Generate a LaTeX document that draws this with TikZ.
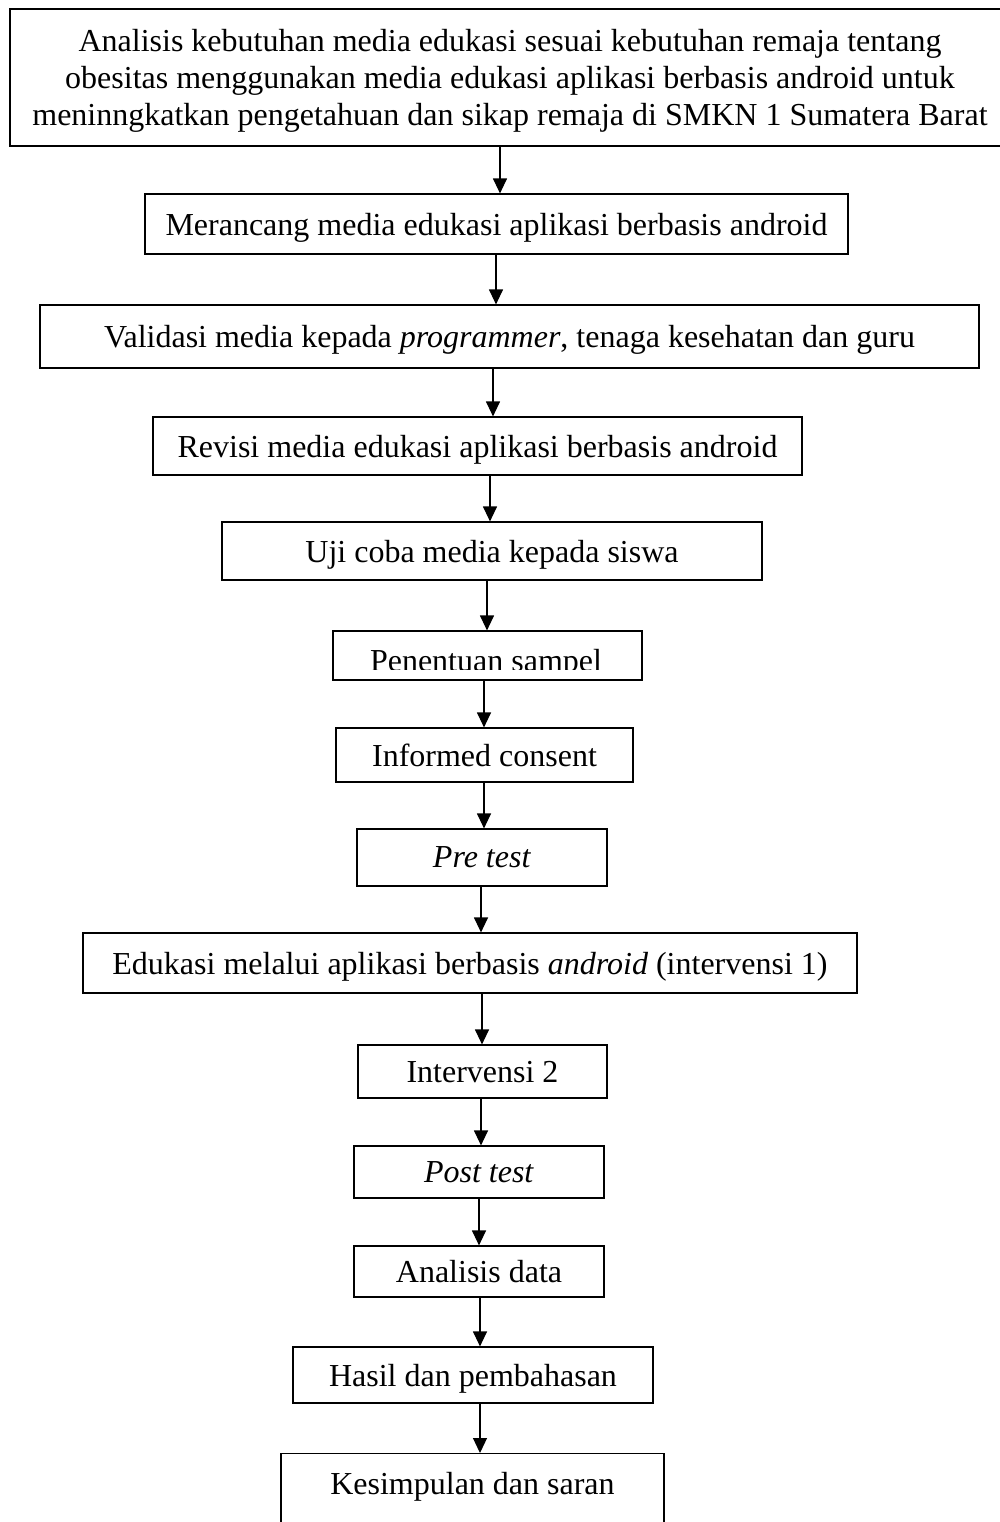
\documentclass[tikz,border=0pt]{standalone}
\usepackage{fontspec}
\setmainfont{Liberation Serif}
\usetikzlibrary{arrows.meta}
\begin{document}
\begin{tikzpicture}[x=0.5pt,y=-0.5pt,
  box/.style={draw,line width=0.6pt,inner sep=0pt,align=center,text depth=0pt,font=\fontsize{16}{18.5}\selectfont},
  arr/.style={line width=0.6pt,-{Triangle[length=7.5pt,width=7pt]}}]
\useasboundingbox (0,0) rectangle (1000,1522);
\clip (0,0) rectangle (1000,1522);
% boxes
\node[box,minimum width=500pt,minimum height=68.5pt] (b1) at (510,77.5)
  {Analisis kebutuhan media edukasi sesuai kebutuhan remaja tentang\\
   obesitas menggunakan media edukasi aplikasi berbasis android untuk\\
   meninngkatkan pengetahuan dan sikap remaja di SMKN 1 Sumatera Barat};
\node[box,minimum width=351.5pt,minimum height=30pt] (b2) at (496.5,224)
  {Merancang media edukasi aplikasi berbasis android};
\node[box,minimum width=469.5pt,minimum height=31.5pt] (b3) at (509.5,336.5)
  {Validasi media kepada \textit{programmer}, tenaga kesehatan dan guru};
\node[box,minimum width=324.5pt,minimum height=29pt] (b4) at (477.5,446)
  {Revisi media edukasi aplikasi berbasis android};
\node[box,minimum width=270pt,minimum height=29pt] (b5) at (492,551)
  {Uji coba media kepada siswa};
\node[box,minimum width=154.5pt,minimum height=24.5pt] (b6) at (487.5,655.5) {};
\begin{scope}
  \clip (333,631) rectangle (642,669);
  \node[anchor=base,inner sep=0pt,font=\fontsize{16}{18}\selectfont] (t6) at (486,671) {Penentuan sampel};
\end{scope}
\node[box,minimum width=148.5pt,minimum height=27pt] (b7) at (484.5,755)
  {Informed consent};
\node[box,minimum width=125pt,minimum height=28.5pt] (b8) at (482,857.5)
  {\textit{Pre test}};
\node[box,minimum width=387pt,minimum height=30pt] (b9) at (470,963)
  {Edukasi melalui aplikasi berbasis \textit{android} (intervensi 1)};
\node[box,minimum width=124.5pt,minimum height=26.5pt] (b10) at (482.5,1071.5)
  {Intervensi 2};
\node[box,minimum width=125pt,minimum height=26pt] (b11) at (479,1172)
  {\textit{Post test}};
\node[box,minimum width=125pt,minimum height=25.5pt] (b12) at (479,1271.5)
  {Analisis data};
\node[box,minimum width=180pt,minimum height=28pt] (b13) at (473,1375)
  {Hasil dan pembahasan};
\node[box,anchor=north,minimum width=191.5pt,text height=20.5pt,text depth=40pt] (b14) at (472.5,1453)
  {Kesimpulan dan saran};
% arrow x positions
\coordinate (a1) at (500,0);
\coordinate (a2) at (496,0);
\coordinate (a3) at (493,0);
\coordinate (a4) at (490,0);
\coordinate (a5) at (487,0);
\coordinate (a6) at (484,0);
\coordinate (a7) at (484,0);
\coordinate (a8) at (481,0);
\coordinate (a9) at (482,0);
\coordinate (a10) at (481,0);
\coordinate (a11) at (479,0);
\coordinate (a12) at (480,0);
\coordinate (a13) at (480,0);
\draw[arr] (b1.south -| a1) -- (b2.north -| a1);
\draw[arr] (b2.south -| a2) -- (b3.north -| a2);
\draw[arr] (b3.south -| a3) -- (b4.north -| a3);
\draw[arr] (b4.south -| a4) -- (b5.north -| a4);
\draw[arr] (b5.south -| a5) -- (b6.north -| a5);
\draw[arr] (b6.south -| a6) -- (b7.north -| a6);
\draw[arr] (b7.south -| a7) -- (b8.north -| a7);
\draw[arr] (b8.south -| a8) -- (b9.north -| a8);
\draw[arr] (b9.south -| a9) -- (b10.north -| a9);
\draw[arr] (b10.south -| a10) -- (b11.north -| a10);
\draw[arr] (b11.south -| a11) -- (b12.north -| a11);
\draw[arr] (b12.south -| a12) -- (b13.north -| a12);
\draw[arr] (b13.south -| a13) -- (b14.north -| a13);
\end{tikzpicture}
\end{document}
